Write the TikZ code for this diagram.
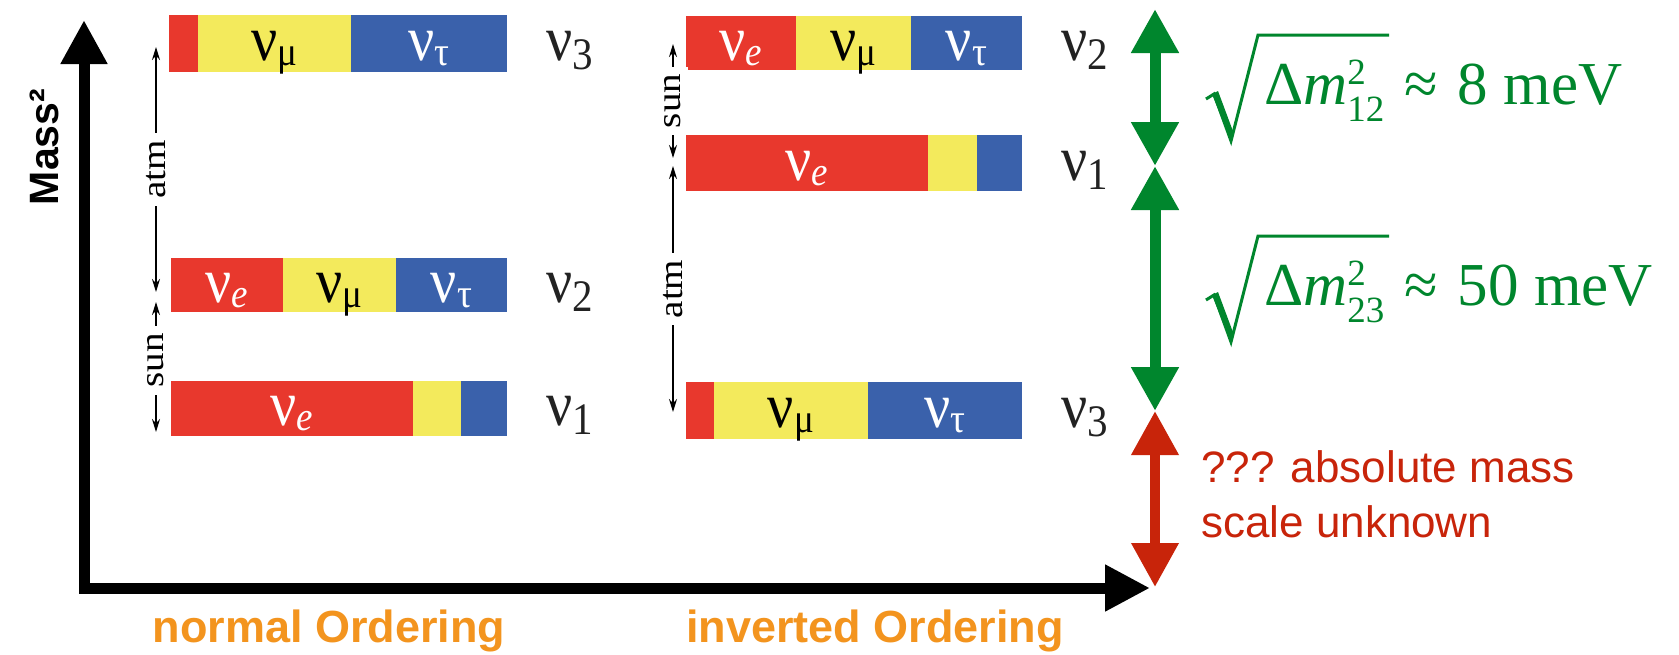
\documentclass[tikz,border=0pt]{standalone}
\usepackage{fontspec}
\setmainfont{Liberation Serif}
\newfontfamily\sansf{Liberation Sans}
\usepackage{graphicx}
\usetikzlibrary{arrows.meta}
\definecolor{bred}{RGB}{232,56,45}
\definecolor{byel}{RGB}{243,234,92}
\definecolor{bblu}{RGB}{58,97,171}
\definecolor{mgreen}{RGB}{0,134,45}
\definecolor{mred}{RGB}{200,36,10}
\definecolor{morange}{RGB}{243,148,30}
\definecolor{labc}{RGB}{34,34,34}
\newcommand\nuIn[1]{\scalebox{1}[1.1]{\fontsize{58}{58}\selectfont ν\raisebox{-5pt}{\fontsize{37}{37}\selectfont #1}}}
\newcommand\nuLab[1]{\scalebox{1}[1.1]{\fontsize{58}{58}\selectfont ν\raisebox{-9pt}{\fontsize{41}{41}\selectfont #1}}}
\newcommand\dmtxt[2]{Δ\textit{m}\rlap{\raisebox{20pt}{\fontsize{37}{37}\selectfont 2}}\raisebox{-17pt}{\fontsize{37}{37}\selectfont #1}\hspace{20pt}≈\hspace{20pt}#2 meV}
\tikzset{
  seg/.style={inner sep=0pt, outer sep=0pt, anchor=base},
  barlab/.style={anchor=base west, inner sep=0pt, text=labc},
  oscarrow/.style={line width=1.6pt, {Stealth[length=13pt,width=8pt]}-{Stealth[length=13pt,width=8pt]}},
  osclab/.style={rotate=90, fill=white, inner sep=7pt, font=\fontsize{34}{34}\selectfont},
  bigarrow/.style={line width=11pt, {Triangle[length=44pt,width=45pt]}-{Triangle[length=44pt,width=45pt]}},
  greentxt/.style={anchor=base west, inner sep=0pt, text=mgreen, font=\fontsize{61}{61}\selectfont},
  radical/.style={draw=mgreen, line width=3pt, line join=miter, miter limit=20},
  redtxt/.style={anchor=base west, inner sep=0pt, text=mred, font=\sansf\fontsize{44}{44}\selectfont},
  ordtxt/.style={anchor=base, inner sep=0pt, text=morange, font=\sansf\bfseries\fontsize{45}{45}\selectfont},
}
\begin{document}
\begin{tikzpicture}[x=1pt,y=-1pt]
\useasboundingbox[fill=white] (0,0) rectangle (1679,654);
% ---------- normal ordering bars ----------
% nu3
\fill[bred] (169,15) rectangle (198,72);
\fill[byel] (198,15) rectangle (351,72);
\fill[bblu] (351,15) rectangle (507,72);
\node[seg] (n3mu) at (274.5,60) {\nuIn{μ}};
\node[seg,text=white] (n3tau) at (429,60) {\nuIn{τ}};
\node[barlab] (n3) at (546,60) {\nuLab{3}};
% nu2
\fill[bred] (171,258) rectangle (283,312);
\fill[byel] (283,258) rectangle (396,312);
\fill[bblu] (396,258) rectangle (507,312);
\node[seg,text=white] (n2e) at (227,302) {\nuIn{\textit{e}}};
\node[seg] (n2mu) at (339.5,302) {\nuIn{μ}};
\node[seg,text=white] (n2tau) at (451.5,302) {\nuIn{τ}};
\node[barlab] (n2) at (546,302) {\nuLab{2}};
% nu1
\fill[bred] (171,381) rectangle (413,436);
\fill[byel] (413,381) rectangle (461,436);
\fill[bblu] (461,381) rectangle (507,436);
\node[seg,text=white] (n1e) at (292,425) {\nuIn{\textit{e}}};
\node[barlab] (n1) at (546,425) {\nuLab{1}};
% ---------- inverted ordering bars ----------
% nu2
\fill[bred] (686,16) rectangle (796,70);
\fill[byel] (796,16) rectangle (911,70);
\fill[bblu] (911,16) rectangle (1022,70);
\node[seg,text=white] (i2e) at (741,60) {\nuIn{\textit{e}}};
\node[seg] (i2mu) at (853.5,60) {\nuIn{μ}};
\node[seg,text=white] (i2tau) at (966.5,60) {\nuIn{τ}};
\node[barlab] (i2) at (1061,60) {\nuLab{2}};
% nu1
\fill[bred] (686,135) rectangle (928,191);
\fill[byel] (928,135) rectangle (977,191);
\fill[bblu] (977,135) rectangle (1022,191);
\node[seg,text=white] (i1e) at (807,180) {\nuIn{\textit{e}}};
\node[barlab] (i1) at (1061,180) {\nuLab{1}};
% nu3
\fill[bred] (686,382) rectangle (714,439);
\fill[byel] (714,382) rectangle (868,439);
\fill[bblu] (868,382) rectangle (1022,439);
\node[seg] (i3mu) at (791,427) {\nuIn{μ}};
\node[seg,text=white] (i3tau) at (945,427) {\nuIn{τ}};
\node[barlab] (i3) at (1061,427) {\nuLab{3}};
% ---------- oscillation arrows ----------
\coordinate (na1) at (156,47);
\coordinate (na2) at (156,292);
\coordinate (ns1) at (156,302);
\coordinate (ns2) at (156,432);
\coordinate (is1) at (673,44);
\coordinate (is2) at (673,158);
\coordinate (ia1) at (673,166);
\coordinate (ia2) at (673,412);
\draw[oscarrow] (na1) -- node[osclab] (natm) {\scalebox{1.15}[1]{atm}} (na2);
\draw[oscarrow] (ns1) -- node[osclab,pos=0.45] (nsun) {\scalebox{1.15}[1]{sun}} (ns2);
\draw[oscarrow] (is1) -- node[osclab] (isun) {\scalebox{1.15}[1]{sun}} (is2);
\draw[oscarrow] (ia1) -- node[osclab] (iatm) {\scalebox{1.15}[1]{atm}} (ia2);
% ---------- axes ----------
\coordinate (ytip) at (84,20);
\coordinate (corner) at (84,588);
\coordinate (xtip) at (1150,588);
\draw[line width=11pt, line join=miter, {Triangle[length=44pt,width=44pt]}-{Triangle[length=45pt,width=44pt]}] (ytip) -- (corner) -- (xtip);
\node[rotate=90, inner sep=0pt, font=\sansf\bfseries\fontsize{41}{41}\selectfont] (mass) at (44,147) {Mass²};
\node[ordtxt] (nord) at (329,642) {normal Ordering};
\node[ordtxt] (iord) at (875,642) {inverted Ordering};
% ---------- mass splitting arrows ----------
\coordinate (g0) at (1155,9);
\coordinate (g1) at (1155,166);
\coordinate (g2) at (1155,411);
\coordinate (g3) at (1155,587);
\draw[bigarrow, mgreen] (g0) -- (g1);
\draw[bigarrow, mgreen] (g1) -- (g2);
\draw[bigarrow, mred, line width=10pt] (g2) -- (g3);
% ---------- splitting labels ----------
\foreach \dy in {0,201} {
  \draw[radical] (1206,99+\dy) -- (1214,94+\dy) -- (1231,141+\dy) -- (1258,35+\dy) -- (1389,35+\dy);
  \fill[mgreen] (1212,94+\dy) -- (1218,91+\dy) -- (1234,134+\dy) -- (1231,142+\dy) -- cycle;
}
\node[greentxt] (dm12) at (1264,104) {\dmtxt{12}{8}};
\node[greentxt] (dm23) at (1264,305) {\dmtxt{23}{50}};
\node[redtxt] (abs1) at (1201,482) {??? absolute mass};
\node[redtxt] (abs2) at (1201,537) {scale unknown};
\end{tikzpicture}
\end{document}
